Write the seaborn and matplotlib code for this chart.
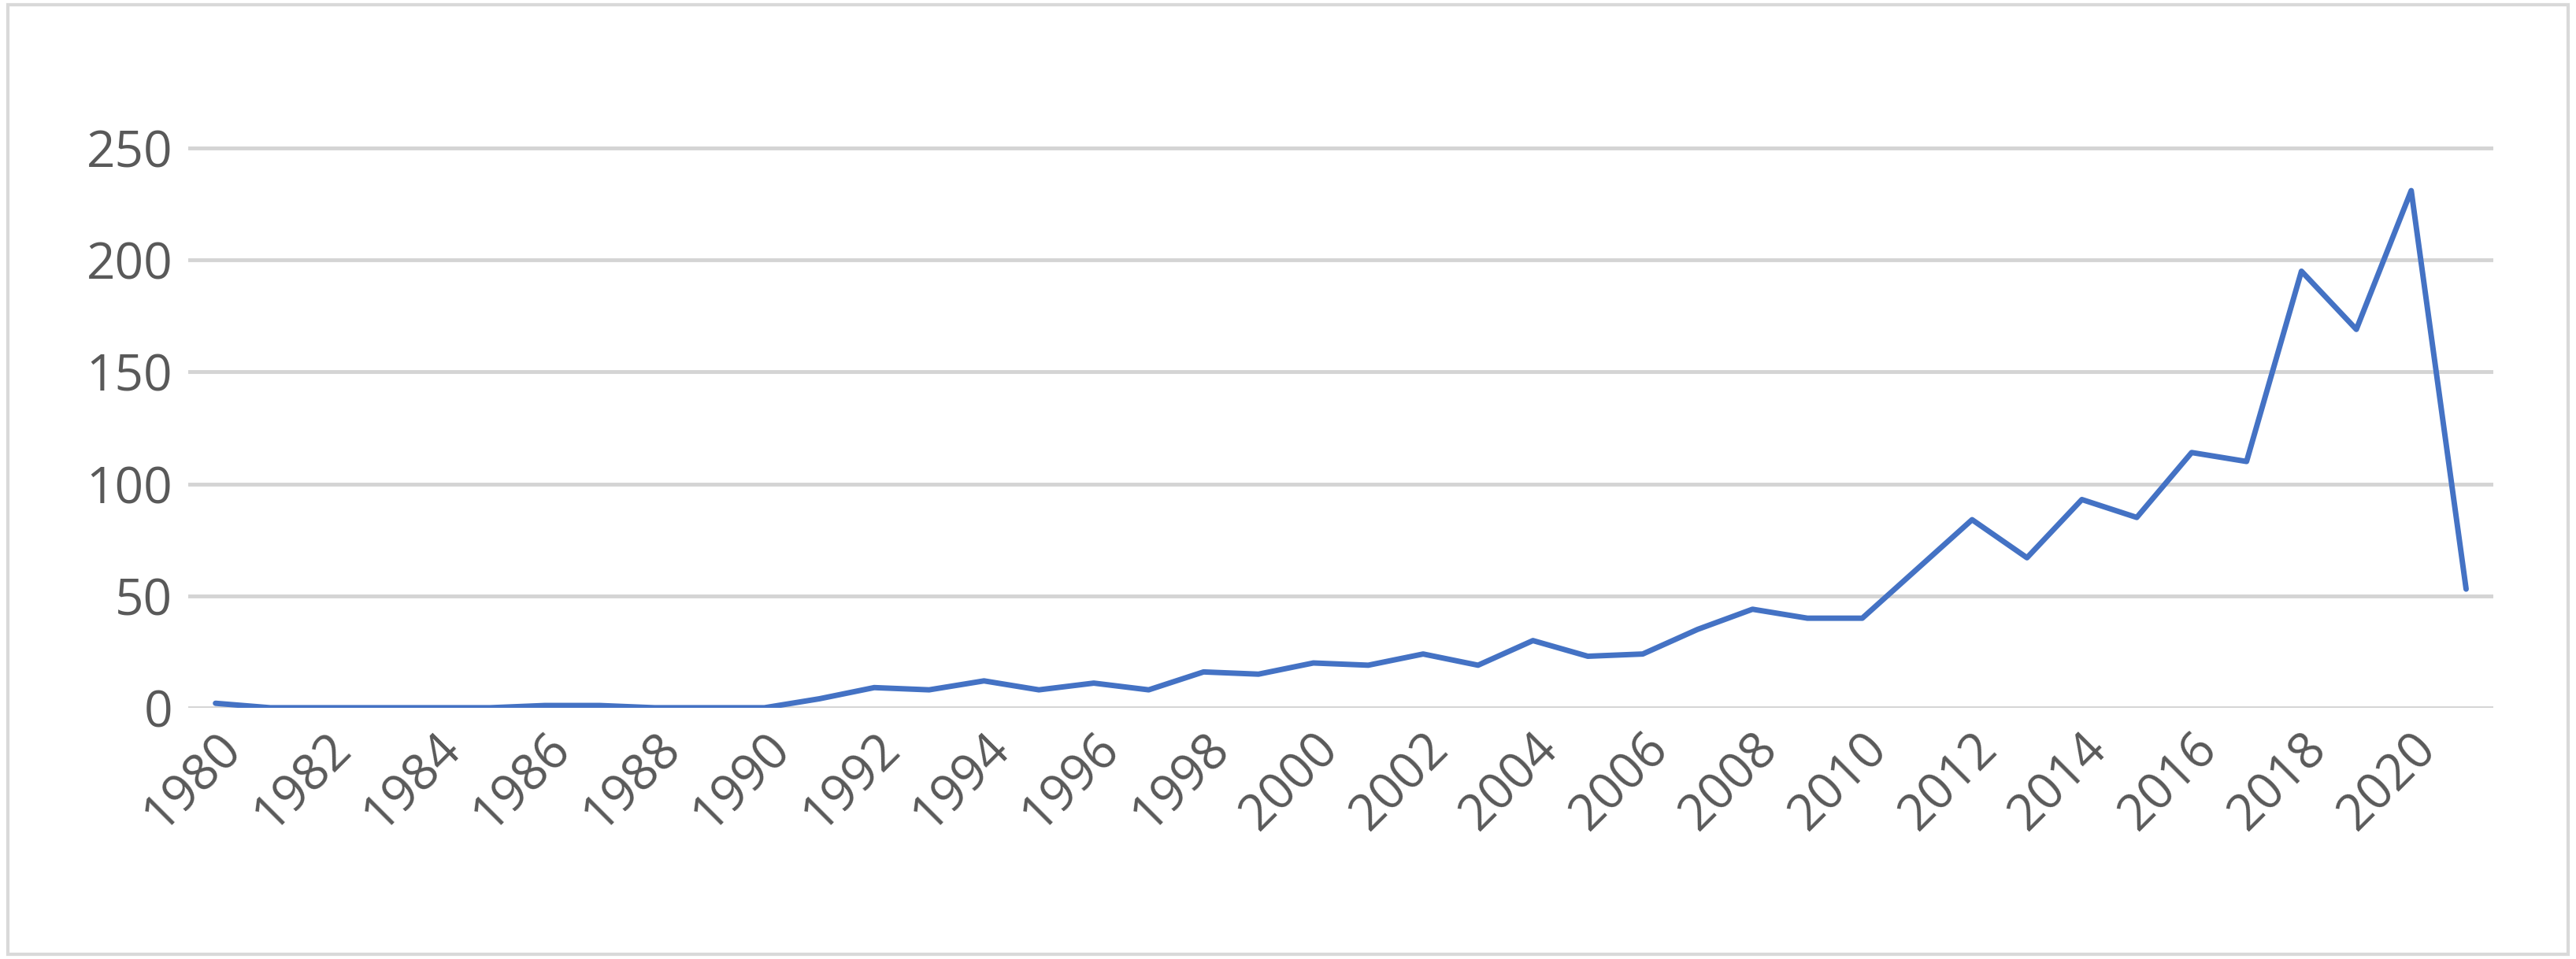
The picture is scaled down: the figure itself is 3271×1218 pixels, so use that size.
"""
Yearly counts line chart, 1980-2021
"""

import matplotlib
matplotlib.use("Agg")
import matplotlib.pyplot as plt
import seaborn as sns
import pandas as pd
from matplotlib.patches import Rectangle

years = list(range(1980, 2022))
counts = [2, 0, 0, 0, 0, 0, 1, 1, 0, 0,
          0, 4, 9, 8, 12, 8, 11, 8, 16, 15,
          20, 19, 24, 19, 30, 23, 24, 35, 44, 40,
          40, 62, 84, 67, 93, 85, 114, 110, 195, 169,
          231, 53]
tick_years = list(range(1980, 2021, 2))
y_ticks = [0, 50, 100, 150, 200, 250]

sns.set_style("white")
plt.rcParams['font.family'] = ['Open Sans', 'DejaVu Sans']

df = pd.DataFrame({"year": years, "count": counts})

fig = plt.figure(figsize=(32.71, 12.18), dpi=100)
ax = fig.add_axes([0.073, 0.262, 0.895, 0.677])

for y in y_ticks:
    ax.axhline(y, color="#d4d4d4", linewidth=3.5, zorder=0)

sns.lineplot(data=df, x="year", y="count", ax=ax, color="#4472C4", linewidth=5)

ax.set_xlim(1979.5, 2021.5)
ax.set_ylim(0, 290)
ax.set_xticks(tick_years)
ax.set_xticklabels([str(y) for y in tick_years], rotation=45, ha="right",
                   rotation_mode="anchor")
ax.set_yticks(y_ticks)
ax.tick_params(axis="both", labelsize=46, labelcolor="#595959", length=0, pad=14)
ax.set_xlabel("")
ax.set_ylabel("")
for s in ax.spines.values():
    s.set_visible(False)

fig.patches.append(Rectangle((0.003, 0.005), 0.994, 0.99, transform=fig.transFigure,
                             fill=False, edgecolor="#d9d9d9", linewidth=3))

fig.savefig("out.png", dpi=100)
